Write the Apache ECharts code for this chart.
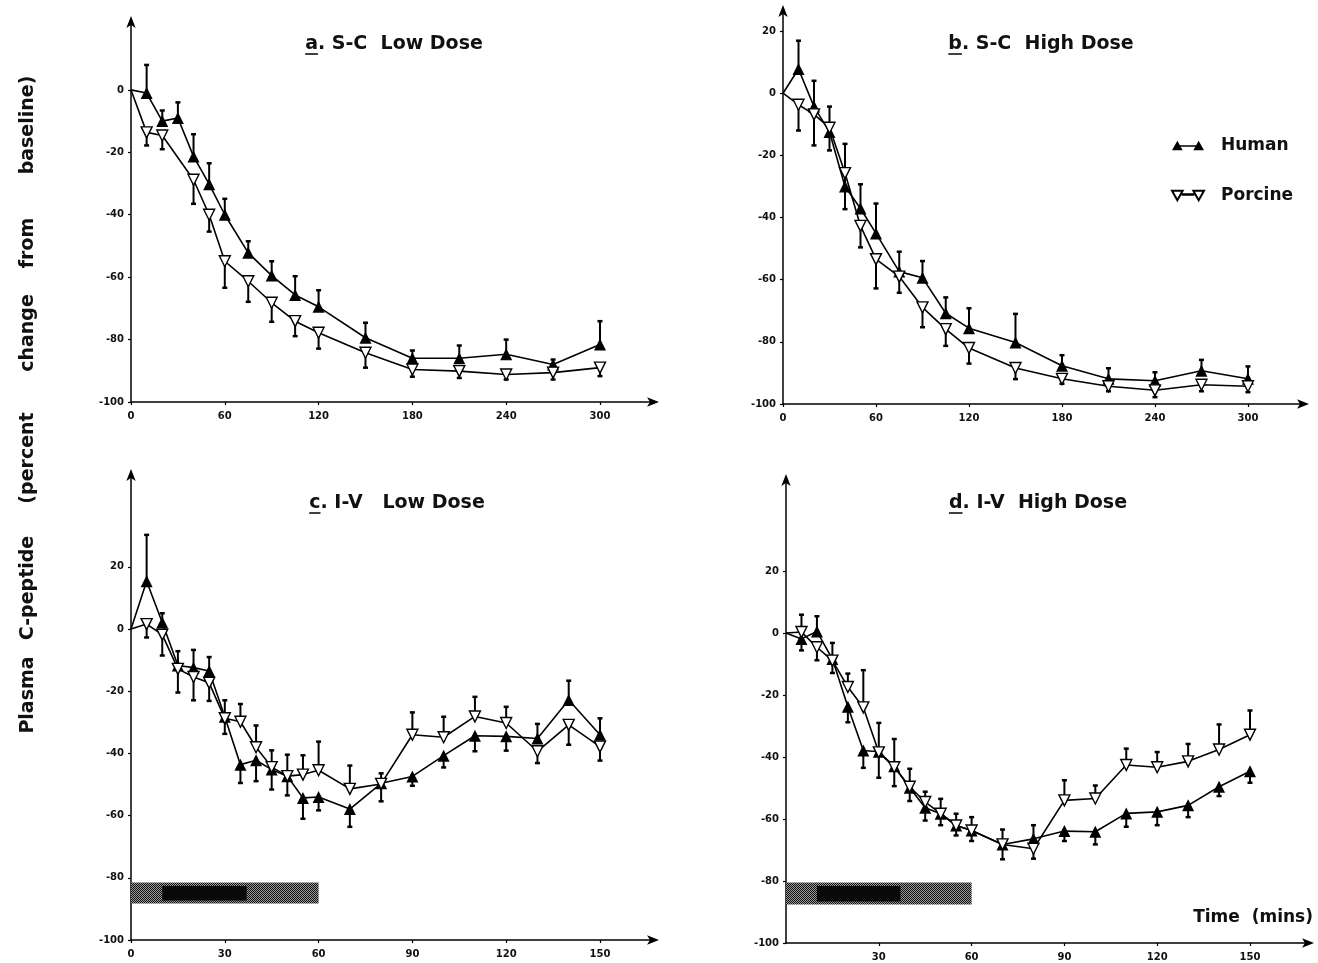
<!DOCTYPE html>
<html>
<head>
<meta charset="utf-8">
<script src="https://cdn.jsdelivr.net/npm/echarts@6/dist/echarts.min.js"></script>
<style>html,body{margin:0;padding:0;background:#fff}#chart{width:1318px;height:963px}</style>
</head>
<body>
<div id="chart"></div>
<script>
// ---------- DATA ----------
// Panel a: S-C Low Dose
const tA_h = [0,10,20,30,40,50,60,75,90,105,120,150,180,210,240,270,300];
const hA   = [0,-1,-10,-9,-21.3,-30.2,-40,-52.2,-59.5,-65.7,-69.5,-79.4,-86,-86,-84.7,-88,-81.6];
const hA_e = [null,8,-6.6,-4,-14.2,-23.5,-34.9,-48.5,-54.9,-59.7,-64.2,-74.6,-83.5,-81.9,-80,-86.4,-74.1];
const tA_p = [0,10,20,40,50,60,75,90,105,120,150,180,210,240,270,300];
const pA   = [0,-13.6,-14.6,-28.8,-40,-54.9,-61.3,-68.2,-74.1,-77.8,-84.2,-89.6,-90.1,-91.2,-90.6,-89];
const pA_e = [null,-17.8,-19,-36.5,-45.4,-63.4,-67.9,-74.3,-78.9,-82.9,-89,-91.9,-92.3,-92.8,-92.8,-91.7];

// Panel b: S-C High Dose
const tB   = [0,10,20,30,40,50,60,75,90,105,120,150,180,210,240,270,300];
const hB   = [0,7.8,-4.3,-12.5,-30,-37.1,-45.1,-57.4,-59.4,-70.8,-75.6,-80.2,-87.7,-91.9,-92.5,-89.3,-91.9];
const hB_e = [null,16.9,4,-4.3,-16.3,-29.3,-35.5,-51,-54,-65.7,-69.2,-71,-84.3,-88.5,-89.8,-85.8,-87.9];
const pB   = [0,-3.7,-6.8,-11.1,-25.7,-42.7,-53.4,-59,-68.9,-75.9,-82,-88.4,-91.9,-94.3,-95.6,-93.8,-94.3];
const pB_e = [null,-12,-16.8,-18.4,-37.3,-49.6,-62.8,-64.2,-75.3,-81.3,-87,-92,-93.5,-95.9,-97.8,-95.9,-96.2];

// Panel c: I-V Low Dose
const tC   = [0,5,10,15,20,25,30,35,40,45,50,55,60,70,80,90,100,110,120,130,140,150];
const hC   = [0,15.4,2.1,-11.7,-12.4,-13.5,-28.2,-43.6,-42.2,-45.2,-47.3,-54.3,-54,-57.9,-49.6,-47.4,-40.7,-34.3,-34.5,-35.2,-22.8,-34];
const hC_e = [null,30.3,5.1,-7.1,-6.7,-9,-22.9,-49.5,-48.9,-51.6,-53.5,-61,-58.3,-63.6,-55.4,-50.4,-44.5,-39.3,-39.1,-30.5,-16.6,-28.7];
const pC   = [0,1.6,-1.8,-12.8,-15.4,-17.3,-28.7,-29.8,-38,-44.4,-47.3,-46.8,-45.4,-51.4,-49.8,-34,-34.8,-28.1,-30.2,-39.3,-30.8,-37.8];
const pC_e = [null,-2.7,-8.5,-20.4,-22.9,-23.1,-33.7,-24.1,-31,-39,-40.4,-40.6,-36.2,-43.9,-46.4,-26.8,-28.2,-21.8,-25,-43.1,-37.2,-42.3];

// Panel d: I-V High Dose
const tD   = [0,5,10,15,20,25,30,35,40,45,50,55,60,70,80,90,100,110,120,130,140,150];
const hD   = [0,-1.9,0.5,-8.4,-23.8,-37.9,-38.3,-43,-49.9,-56.4,-58.3,-62.1,-63.7,-68.2,-66.4,-63.9,-64.1,-58.2,-57.7,-55.6,-49.6,-44.6];
const hD_e = [null,-5.6,5.4,-3.2,-28.8,-43.5,-46.7,-49.4,-54.2,-60.5,-62,-65.3,-67.1,-73,-62,-67.1,-68.2,-62.5,-62,-59.4,-52.6,-48.3];
const pD   = [0,0.3,-4.6,-8.9,-17.4,-24,-38.5,-43.3,-49.6,-54.5,-58.3,-62.1,-63.7,-68.2,-69.6,-54,-53.4,-42.6,-43.3,-41.4,-37.6,-32.8];
const pD_e = [null,5.9,-8.8,-12.9,-13.1,-12,-29,-34.2,-43.8,-51.2,-53.5,-58.3,-59.4,-63.4,-72.8,-47.5,-49.2,-37.3,-38.4,-35.8,-29.5,-25];

// Infusion period (minutes) and its dense core
const infusion = [0, 60];
const infusionCore = [10, 37];

// Tick labels
const xTicksSC = [0,60,120,180,240,300];
const xTicksIVc = [0,30,60,90,120,150];
const xTicksIVd = [30,60,90,120,150];
const yTicksA = [-100,-80,-60,-40,-20,0];
const yTicksB = [-100,-80,-60,-40,-20,0,20];

const titles = [['a', '. S-C  Low Dose'], ['b', '. S-C  High Dose'], ['c', '. I-V   Low Dose'], ['d', '. I-V  High Dose']];
const yTitleWords = ['Plasma', 'C-peptide', '(percent', 'change', 'from', 'baseline)'];
const xTitle = 'Time  (mins)';
const names = ['Human', 'Porcine'];

// ---------- CHART ----------
const FONT = '"DejaVu Sans", "Liberation Sans", sans-serif';
const chart = echarts.init(document.getElementById('chart'), null, {renderer: 'canvas'});

const grids = [
  {left: 131, top: 20, width: 524, height: 382},
  {left: 783, top: 9, width: 522, height: 395},
  {left: 131, top: 473, width: 524, height: 467},
  {left: 786, top: 478, width: 524, height: 465}
];
const xMax = [335.2, 336.8, 167.6, 169.4];
const yMax = [22.4, 27.1, 50.2, 50];
const xInt = [60, 60, 30, 30];
const xTicks = [xTicksSC, xTicksSC, xTicksIVc, xTicksIVd];
const yTicks = [yTicksA, yTicksB, yTicksB, yTicksB];

const axisLine = {show: true, onZero: false, lineStyle: {color: '#000', width: 1.5}, symbol: ['none', 'arrow'], symbolSize: [7, 12], symbolOffset: [0, 4]};
const labelStyle = {color: '#111', fontSize: 10, fontWeight: 'bold', fontFamily: FONT};

const xAxes = grids.map((g, i) => ({
  type: 'value', gridIndex: i, min: 0, max: xMax[i], interval: xInt[i],
  axisLine: axisLine, splitLine: {show: false},
  axisTick: {show: true, length: 3, lineStyle: {color: '#000', width: 1.2}, customValues: xTicks[i]},
  axisLabel: Object.assign({margin: 9, customValues: xTicks[i],
    formatter: v => xTicks[i].indexOf(v) >= 0 ? String(v) : ''}, labelStyle)
}));
const yAxes = grids.map((g, i) => ({
  type: 'value', gridIndex: i, min: -100, max: yMax[i], interval: 20,
  axisLine: axisLine, splitLine: {show: false},
  axisTick: {show: true, length: 3, lineStyle: {color: '#000', width: 1.2}, customValues: yTicks[i]},
  axisLabel: Object.assign({margin: 7, customValues: yTicks[i],
    formatter: v => yTicks[i].indexOf(v) >= 0 ? String(v) : ''}, labelStyle)
}));

function pts(t, v) {
  return t.map((x, k) => k === 0 ? {value: [x, v[k]], symbol: 'none'} : [x, v[k]]);
}
function errPts(t, v, e) {
  const out = [];
  t.forEach((x, k) => { if (e[k] !== null) out.push([x, v[k], e[k]]); });
  return out;
}
function errSeries(i, name, data) {
  return {
    type: 'custom', name: name, xAxisIndex: i, yAxisIndex: i, z: 1, silent: true,
    data: data,
    renderItem: (params, api) => {
      const p1 = api.coord([api.value(0), api.value(1)]);
      const p2 = api.coord([api.value(0), api.value(2)]);
      return {type: 'group', children: [
        {type: 'line', shape: {x1: p1[0], y1: p1[1], x2: p2[0], y2: p2[1]}, style: {stroke: '#000', lineWidth: 2}},
        {type: 'line', shape: {x1: p2[0] - 2.5, y1: p2[1], x2: p2[0] + 2.5, y2: p2[1]}, style: {stroke: '#000', lineWidth: 2.5}}
      ]};
    }
  };
}
const humanStyle = {
  type: 'line', name: 'Human', symbol: 'triangle', symbolSize: 12, z: 3,
  itemStyle: {color: '#000'}, lineStyle: {color: '#000', width: 1.6}
};
const porcStyle = {
  type: 'line', name: 'Porcine', symbol: 'triangle', symbolRotate: 180, symbolSize: 11, z: 4,
  itemStyle: {color: '#fff', borderColor: '#000', borderWidth: 1.4}, lineStyle: {color: '#000', width: 1.6}
};

// dithered pattern for the infusion band
const pat = document.createElement('canvas');
pat.width = 2; pat.height = 2;
const pc = pat.getContext('2d');
pc.fillStyle = '#9a9a9a'; pc.fillRect(0, 0, 2, 2);
pc.fillStyle = '#111'; pc.fillRect(0, 0, 1, 1); pc.fillRect(1, 1, 1, 1);

function band(lo, hi, coreLo, coreHi) {
  return {
    silent: true,
    data: [
      [{xAxis: infusion[0], yAxis: lo, itemStyle: {color: {image: pat, repeat: 'repeat'}}}, {xAxis: infusion[1], yAxis: hi}],
      [{xAxis: infusionCore[0], yAxis: coreLo, itemStyle: {color: '#0a0a0a'}}, {xAxis: infusionCore[1], yAxis: coreHi}]
    ]
  };
}

const panelData = [
  [tA_h, hA, hA_e, tA_p, pA, pA_e],
  [tB, hB, hB_e, tB, pB, pB_e],
  [tC, hC, hC_e, tC, pC, pC_e],
  [tD, hD, hD_e, tD, pD, pD_e]
];
const series = [];
panelData.forEach((d, i) => {
  const h = Object.assign({}, humanStyle, {xAxisIndex: i, yAxisIndex: i, data: pts(d[0], d[1])});
  if (i === 2) h.markArea = band(-81.5, -88.3, -82.6, -87.3);
  if (i === 3) h.markArea = band(-80.5, -87.6, -81.6, -86.6);
  series.push(h);
  series.push(Object.assign({}, porcStyle, {xAxisIndex: i, yAxisIndex: i, data: pts(d[3], d[4])}));
});
panelData.forEach((d, i) => {
  series.push(errSeries(i, 'Human', errPts(d[0], d[1], d[2])));
  series.push(errSeries(i, 'Porcine', errPts(d[3], d[4], d[5])));
});

// titles with underlined panel letter
const mctx = document.createElement('canvas').getContext('2d');
const TFONT = 'bold 19px ' + FONT;
mctx.font = TFONT;
const titlePos = [[394, 44], [1041, 44], [397, 503], [1038, 503]];
const graphics = [];
titles.forEach((t, i) => {
  const wL = mctx.measureText(t[0]).width, wR = mctx.measureText(t[1]).width;
  const x0 = titlePos[i][0] - (wL + wR) / 2, y = titlePos[i][1];
  graphics.push({type: 'text', x: x0, y: y, style: {text: t[0] + t[1], font: TFONT, fill: '#111', textAlign: 'left', textVerticalAlign: 'middle'}});
  graphics.push({type: 'line', shape: {x1: x0, y1: y + 10, x2: x0 + wL, y2: y + 10}, style: {stroke: '#111', lineWidth: 1.6}});
});
// y title: words placed along the left margin
const yWordCenters = [695, 588, 458, 333, 243, 125];
yTitleWords.forEach((w, k) => {
  graphics.push({type: 'text', x: 28, y: yWordCenters[k], rotation: Math.PI / 2,
    style: {text: w, font: 'bold 19px ' + FONT, fill: '#111', textAlign: 'center', textVerticalAlign: 'middle'}});
});
graphics.push({type: 'text', x: 1313, y: 918,
  style: {text: xTitle, font: 'bold 17px ' + FONT, fill: '#111', textAlign: 'right', textVerticalAlign: 'middle'}});

const humanIcon = 'path://M0,10 L5,1 L10,10 Z M5,5.3 L25,5.3 L25,6.7 L5,6.7 Z M20,10 L25,1 L30,10 Z';
const porcIcon = 'path://M0,1 L10,1 L5,10 Z M10,4.3 L20,4.3 L20,4.7 L10,4.7 Z M20,1 L30,1 L25,10 Z';

chart.setOption({
  backgroundColor: '#fff',
  animation: false,
  grid: grids.map(g => Object.assign({containLabel: false}, g)),
  xAxis: xAxes,
  yAxis: yAxes,
  legend: {
    data: [{name: names[0], icon: humanIcon}, {name: names[1], icon: porcIcon}],
    orient: 'vertical', left: 1166, top: 132, itemWidth: 32, itemHeight: 11, itemGap: 33,
    selectedMode: false,
    textStyle: {fontSize: 17, fontWeight: 'bold', fontFamily: FONT, color: '#111', padding: [0, 0, 0, 12]}
  },
  series: series,
  graphic: graphics
});
</script>
</body>
</html>
